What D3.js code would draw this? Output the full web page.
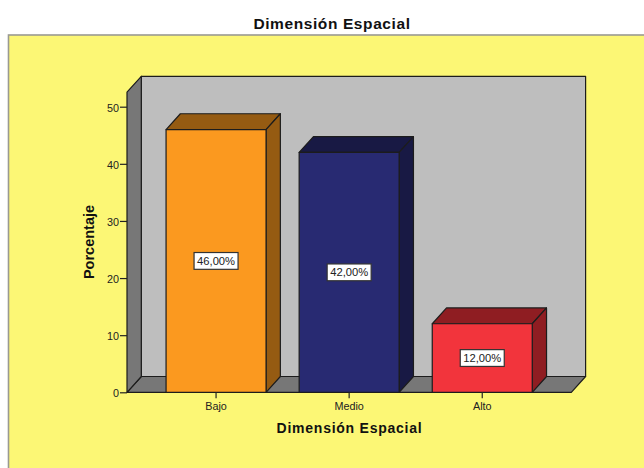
<!DOCTYPE html>
<html lang="es">
<head>
<meta charset="utf-8">
<title>Dimensión Espacial</title>
<script src="https://cdn.jsdelivr.net/npm/d3@7/dist/d3.min.js"></script>
<style>
  html, body { margin: 0; padding: 0; background: #fff; }
  svg { display: block; }
  text { font-family: "Liberation Sans", Arial, sans-serif; }
</style>
</head>
<body>
<div id="chart"></div>
<script>
// Survey results: share of respondents per level
const categories = ["Bajo", "Medio", "Alto"];
const percentages = [46, 42, 12];
const yTicks = [0, 10, 20, 30, 40, 50];
const frontColors = ["#FB991F", "#282A72", "#F2343C"];
const shadeColors = ["#955B12", "#181944", "#8F1D22"];

const width = 644, height = 468;
const x0 = 127, x1 = 571.3;      // front edge of the floor
const yBase = 392.3, y50 = 106.7; // pixel rows of 0 and 50
const depthX = 14.3, depthY = 15.8; // oblique offset of the 3D box
const wallTop = 76.3;             // upper edge of the back wall
const edge = "#1c1c1c";

const svg = d3.select("#chart").append("svg")
  .attr("width", width).attr("height", height)
  .attr("viewBox", [0, 0, width, height]);

const x = d3.scaleBand().domain(categories).range([x0, x1])
  .paddingInner(0.2487).paddingOuter(0.2935);
const y = d3.scaleLinear().domain([0, 50]).range([yBase, y50]);

const poly = pts => pts.map(p => p.join(",")).join(" ");
const shape = (pts, fill) => svg.append("polygon")
  .attr("points", poly(pts)).attr("fill", fill)
  .attr("stroke", edge).attr("stroke-width", 1.2).attr("stroke-linejoin", "round");

// Outer panel, running off the right and bottom of the page
svg.append("rect")
  .attr("x", 8.5).attr("y", 35)
  .attr("width", width + 20).attr("height", height)
  .attr("fill", "#FCF775").attr("stroke", "#9a9a92").attr("stroke-width", 1.6);

// Chart title
svg.append("text").attr("x", 332).attr("y", 28.5)
  .attr("text-anchor", "middle").attr("font-weight", "bold")
  .attr("font-size", 15.5).attr("letter-spacing", 0.6).attr("fill", "#111")
  .text("Dimensión Espacial");

// Back wall, floor and left wall
const backL = x0 + depthX, backB = yBase - depthY;
shape([[backL, wallTop], [x1 + depthX, wallTop], [x1 + depthX, backB], [backL, backB]], "#BEBEBE");
shape([[x0, yBase], [backL, backB], [x1 + depthX, backB], [x1, yBase]], "#777777");
shape([[x0, wallTop + depthY], [backL, wallTop], [backL, backB], [x0, yBase]], "#777777");

// Bars: front face, top and right side
categories.forEach((c, i) => {
  const l = x(c), r = l + x.bandwidth(), t = y(percentages[i]);
  shape([[l, t], [l + depthX, t - depthY], [r + depthX, t - depthY], [r, t]], shadeColors[i]);
  shape([[r, t], [r + depthX, t - depthY], [r + depthX, yBase - depthY], [r, yBase]], shadeColors[i]);
  shape([[l, t], [r, t], [r, yBase], [l, yBase]], frontColors[i]);
});

// Value labels at mid-height of each bar
categories.forEach((c, i) => {
  const cx = x(c) + x.bandwidth() / 2, cy = y(percentages[i] / 2);
  const g = svg.append("g").attr("transform", `translate(${cx},${cy})`);
  g.append("rect").attr("x", -22).attr("y", -8.4).attr("width", 44).attr("height", 16.8)
    .attr("fill", "#fff").attr("stroke", "#333").attr("stroke-width", 1.2);
  g.append("text").attr("text-anchor", "middle").attr("y", 4)
    .attr("font-size", 11.2).attr("fill", "#222")
    .text(percentages[i].toFixed(2).replace(".", ",") + "%");
});

// Axes
const yAxis = svg.append("g").attr("transform", `translate(${x0},0)`)
  .call(d3.axisLeft(y).tickValues(yTicks).tickSize(7).tickPadding(1));
const xAxis = svg.append("g").attr("transform", `translate(0,${yBase})`)
  .call(d3.axisBottom(x).tickSize(6).tickPadding(3));
[yAxis, xAxis].forEach(a => {
  a.select(".domain").remove();
  a.selectAll("line").attr("stroke", "#222").attr("stroke-width", 1.2);
  a.selectAll("text").attr("fill", "#222").attr("font-size", 10.8)
    .attr("font-family", '"Liberation Sans", Arial, sans-serif');
});
yAxis.selectAll("text").attr("dy", "0.42em");
xAxis.selectAll("text").attr("dy", "0.81em");

// Axis titles
svg.append("text").attr("x", 349.5).attr("y", 433)
  .attr("text-anchor", "middle").attr("font-weight", "bold")
  .attr("font-size", 14).attr("letter-spacing", 0.75).attr("fill", "#111")
  .text("Dimensión Espacial");
svg.append("text").attr("transform", "translate(94,242) rotate(-90)")
  .attr("text-anchor", "middle").attr("font-weight", "bold")
  .attr("font-size", 14.5).attr("fill", "#111")
  .text("Porcentaje");
</script>
</body>
</html>
